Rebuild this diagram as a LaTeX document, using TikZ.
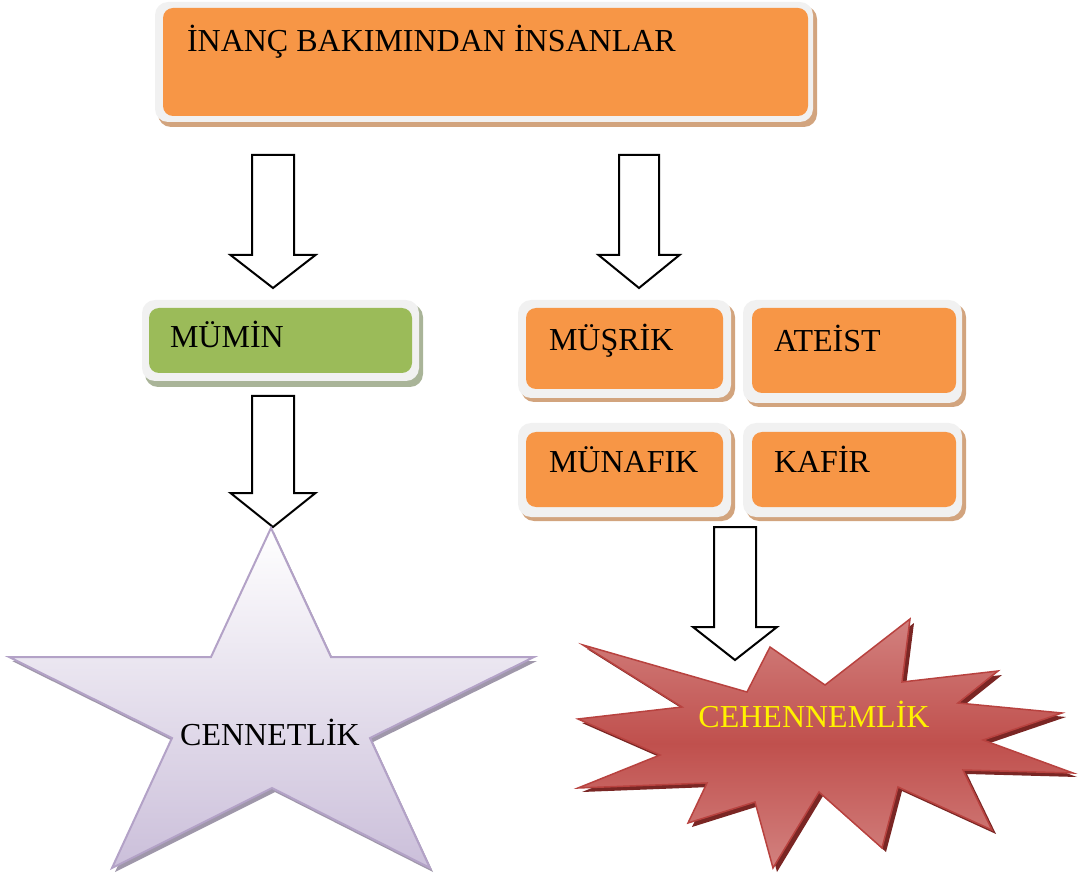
\documentclass[tikz,border=0pt]{standalone}
\usepackage{fontspec}
\setmainfont{Liberation Serif}
\definecolor{orangefill}{HTML}{F79646}
\definecolor{greenfill}{HTML}{9BBB59}
\definecolor{outerfill}{HTML}{F1F1F1}
\definecolor{tanshadow}{HTML}{D2A47E}
\definecolor{greenshadow}{HTML}{A9B498}
\definecolor{starline}{HTML}{B3A2C7}
\definecolor{starbottom}{HTML}{CBBFDA}
\definecolor{starshadow}{HTML}{9F97AA}
\definecolor{boomtop}{HTML}{DA9694}
\definecolor{boommid}{HTML}{C0504D}
\definecolor{boomline}{HTML}{B8423F}
\definecolor{boomshadow}{HTML}{7A2624}
\pgfdeclareverticalshading{boomshade}{100bp}{color(0bp)=(boomtop); color(25bp)=(boomtop!70!boommid); color(50bp)=(boommid); color(75bp)=(boomtop!70!boommid); color(100bp)=(boomtop)}
\pgfdeclareverticalshading{starshade}{100bp}{color(0bp)=(starbottom); color(25bp)=(starbottom); color(75bp)=(white); color(100bp)=(white)}
\tikzset{
  outerbox/.style={fill=outerfill, rounded corners=13pt},
  shadowbox/.style={rounded corners=13pt},
  innerbox/.style={rounded corners=10pt, anchor=north west, inner sep=0pt, outer sep=0pt},
  lbl/.style={inner sep=0pt, outer sep=0pt, font=\fontsize{32}{38}\selectfont},
  blockarrow/.style={draw=black, line width=2pt, fill=white, line join=miter},
}
\newcommand\barrow[6]{%
  \draw[blockarrow] ({#1-#5},#2) -- ({#1+#5},#2) -- ({#1+#5},#3) -- ({#1+#6},#3)
    -- (#1,#4) -- ({#1-#6},#3) -- ({#1-#5},#3) -- cycle;}
\begin{document}
\begin{tikzpicture}[x=1pt,y=-1pt]
\useasboundingbox (0,0) rectangle (1080,877);

% title box
\fill[shadowbox, fill=tanshadow] (158,6) rectangle (817,127);
\fill[outerbox] (155,2) rectangle (813,122);
\node[innerbox, fill=orangefill, minimum width=645pt, minimum height=108pt] (title) at (163,8) {};
\node[lbl, anchor=base west] (titletext) at (187,52) {İNANÇ BAKIMINDAN İNSANLAR};

% arrows from title
\barrow{273}{155}{255}{288}{21}{42.5}
\barrow{639}{155}{255}{288}{20}{40.5}

% MÜMİN
\fill[shadowbox, fill=greenshadow] (145,304) rectangle (423,387);
\fill[outerbox] (142,300) rectangle (419,381);
\node[innerbox, fill=greenfill, minimum width=263pt, minimum height=65pt] (mumin) at (149,308) {};
\node[lbl, anchor=base west] (mumintext) at (170,348) {MÜMİN};

% MÜŞRİK
\fill[shadowbox, fill=tanshadow] (521,304) rectangle (735,402);
\fill[outerbox] (518,300) rectangle (731,398);
\node[innerbox, fill=orangefill, minimum width=197pt, minimum height=81pt] (musrik) at (526,308) {};
\node[lbl, anchor=base west] (musriktext) at (549,351) {MÜŞRİK};

% ATEİST
\fill[shadowbox, fill=tanshadow] (746,304) rectangle (966,407);
\fill[outerbox] (743,300) rectangle (962,403);
\node[innerbox, fill=orangefill, minimum width=204pt, minimum height=85pt] (ateist) at (752,308) {};
\node[lbl, anchor=base west] (ateisttext) at (774,352) {ATEİST};

% MÜNAFIK
\fill[shadowbox, fill=tanshadow] (521,427) rectangle (735,521);
\fill[outerbox] (518,423) rectangle (731,517);
\node[innerbox, fill=orangefill, minimum width=197pt, minimum height=75pt] (munafik) at (526,432) {};
\node[lbl, anchor=base west] (munafiktext) at (549,473) {MÜNAFIK};

% KAFİR
\fill[shadowbox, fill=tanshadow] (746,427) rectangle (966,521);
\fill[outerbox] (743,423) rectangle (962,517);
\node[innerbox, fill=orangefill, minimum width=204pt, minimum height=75pt] (kafir) at (752,432) {};
\node[lbl, anchor=base west] (kafirtext) at (774,473) {KAFİR};

% arrows to results
\barrow{273}{396}{493}{527}{21}{42.5}
\barrow{735}{527}{627}{660}{21}{42}

% star
\fill[starshadow, shift={(3,4)}] (271,528) -- (331,657) -- (534,657) -- (370,738) -- (430,868)
  -- (272,788) -- (112,868) -- (172,738) -- (9,657) -- (211,657) -- cycle;
\shade[shading=starshade, draw=starline, line width=2pt, line join=miter]
  (271,528) -- (331,657) -- (534,657) -- (370,738) -- (430,868)
  -- (272,788) -- (112,868) -- (172,738) -- (9,657) -- (211,657) -- cycle;
\node[lbl, anchor=base] (cennet) at (270,745) {CENNETLİK};

% explosion
\fill[boomshadow, shift={(4,4)}] (583,645) -- (747,692) -- (770,647) -- (825,685) -- (910,619)
  -- (902,682) -- (998,671) -- (958,703) -- (1062,713) -- (983,740) -- (1073,773)
  -- (963,770) -- (992,830) -- (898,787) -- (882,848) -- (819,792) -- (773,868)
  -- (755,802) -- (688,823) -- (707,783) -- (578,788) -- (660,755) -- (578,719)
  -- (682,707) -- cycle;
\shade[shading=boomshade, draw=boomline, line width=1.5pt, line join=miter]
  (583,645) -- (747,692) -- (770,647) -- (825,685) -- (910,619)
  -- (902,682) -- (998,671) -- (958,703) -- (1062,713) -- (983,740) -- (1073,773)
  -- (963,770) -- (992,830) -- (898,787) -- (882,848) -- (819,792) -- (773,868)
  -- (755,802) -- (688,823) -- (707,783) -- (578,788) -- (660,755) -- (578,719)
  -- (682,707) -- cycle;
\node[lbl, anchor=base, text=yellow] (cehennem) at (814,727) {CEHENNEMLİK};
\end{tikzpicture}
\end{document}
